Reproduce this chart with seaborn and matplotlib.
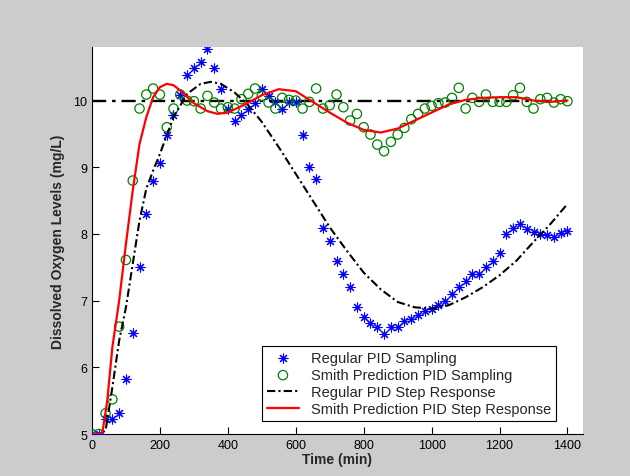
import numpy as np
import matplotlib
matplotlib.use('Agg')
import matplotlib.pyplot as plt
import seaborn as sns

# sampling times (min), every 20 min
t_sample = np.arange(0, 1401, 20)

regular_sampling = [
    5.0, 5.0, 5.22, 5.22, 5.31, 5.82, 6.51, 7.5, 8.3, 8.8,
    9.07, 9.49, 9.78, 10.09, 10.39, 10.49, 10.58, 10.78, 10.49, 10.18,
    9.88, 9.69, 9.79, 9.88, 9.97, 10.18, 10.07, 9.98, 9.88, 9.98,
    9.98, 9.49, 9.0, 8.82, 8.09, 7.9, 7.6, 7.4, 7.21, 6.91,
    6.75, 6.67, 6.61, 6.5, 6.6, 6.6, 6.69, 6.73, 6.78, 6.84,
    6.88, 6.94, 7.0, 7.1, 7.21, 7.3, 7.4, 7.4, 7.5, 7.6,
    7.72, 8.0, 8.09, 8.15, 8.07, 8.03, 8.0, 7.98, 7.96, 8.01,
    8.04
]

smith_sampling = [
    5.0, 5.0, 5.31, 5.52, 6.61, 7.61, 8.8, 9.88, 10.09, 10.18,
    10.09, 9.6, 9.88, 10.09, 10.0, 9.99, 9.88, 10.07, 9.97, 9.88,
    9.9, 9.88, 10.02, 10.1, 10.18, 10.07, 9.97, 9.88, 10.04, 10.01,
    10.0, 9.88, 9.98, 10.18, 9.88, 9.93, 10.09, 9.9, 9.7, 9.8,
    9.6, 9.49, 9.34, 9.24, 9.38, 9.49, 9.59, 9.72, 9.8, 9.88,
    9.92, 9.96, 9.97, 10.04, 10.19, 9.88, 10.04, 9.98, 10.09, 9.98,
    9.98, 9.98, 10.08, 10.19, 9.98, 9.88, 10.02, 10.04, 9.97, 10.02,
    9.99
]

# step responses
t_regular = [0, 20, 40, 60, 80, 100, 120, 140, 160, 180, 200, 240, 280,
             320, 350, 380, 420, 460, 500, 550, 600, 650, 700, 750, 800,
             850, 900, 950, 1000, 1050, 1100, 1150, 1200, 1250, 1300,
             1350, 1400]
regular_step = [5.0, 5.0, 5.05, 5.7, 6.4, 6.9, 7.55, 8.2, 8.68, 8.95, 9.2,
                9.75, 10.1, 10.25, 10.28, 10.25, 10.12, 9.93, 9.68, 9.3,
                8.9, 8.5, 8.1, 7.75, 7.42, 7.17, 6.98, 6.9, 6.88, 6.93,
                7.05, 7.2, 7.38, 7.6, 7.88, 8.15, 8.45]

t_smith = [0, 30, 45, 60, 80, 100, 120, 140, 160, 180, 200, 220, 240, 260,
           300, 340, 370, 400, 450, 500, 550, 600, 650, 700, 750, 800,
           850, 900, 950, 1000, 1050, 1100, 1150, 1200, 1250, 1300, 1350,
           1400]
smith_step = [5.0, 5.0, 5.5, 6.3, 7.0, 7.85, 8.65, 9.35, 9.75, 10.05, 10.2,
              10.25, 10.23, 10.15, 9.96, 9.84, 9.8, 9.82, 9.94, 10.08,
              10.17, 10.14, 9.98, 9.82, 9.67, 9.56, 9.52, 9.58, 9.7, 9.82,
              9.94, 10.01, 10.04, 10.05, 10.05, 10.0, 9.98, 10.0]

setpoint_t = [0, 1400]
setpoint = [10, 10]

sns.set_style('white')
plt.rcParams['font.family'] = ['Liberation Sans', 'DejaVu Sans']

fig = plt.figure(figsize=(6.3, 4.77), dpi=100, facecolor='#cccccc')
ax = fig.add_axes([0.146, 0.088, 0.779, 0.811])
ax.set_facecolor('white')

sns.lineplot(x=setpoint_t, y=setpoint, ax=ax, color='black',
             linewidth=1.7, dashes=False, label='_nolegend_')
ax.lines[-1].set_dashes((6, 2.5, 1.5, 2.5))

sns.scatterplot(x=t_sample, y=regular_sampling, ax=ax,
                marker=(8, 2, 0), s=42, color='blue', edgecolor='blue',
                linewidth=0.8, label='Regular PID Sampling', zorder=3)
sns.scatterplot(x=t_sample, y=smith_sampling, ax=ax,
                marker='o', s=45, facecolors='none', edgecolors='green',
                linewidth=0.9, label='Smith Prediction PID Sampling',
                zorder=3)

sns.lineplot(x=t_regular, y=regular_step, ax=ax, color='black',
             linewidth=1.5, label='Regular PID Step Response',
             zorder=4)
ax.lines[-1].set_dashes((4, 1.5, 1, 1.5))
sns.lineplot(x=t_smith, y=smith_step, ax=ax, color='red',
             linewidth=1.6, label='Smith Prediction PID Step Response',
             zorder=5)

ax.set_xlim(0, 1445)
ax.set_ylim(5, 10.8)
ax.set_xticks(range(0, 1401, 200))
ax.set_yticks(range(5, 11))

for side in ['top', 'right']:
    ax.spines[side].set_visible(False)
for side in ['left', 'bottom']:
    ax.spines[side].set_color('black')
    ax.spines[side].set_linewidth(0.8)

ax.tick_params(direction='in', length=5, width=0.8, labelsize=9,
               colors='black', left=True, bottom=True)

ax.set_xlabel('Time (min)', fontsize=10, fontweight='bold', labelpad=1)
ax.set_ylabel('Dissolved Oxygen Levels (mg/L)', fontsize=10,
              fontweight='bold', labelpad=6)

leg = ax.legend(loc='lower left', bbox_to_anchor=(0.346, 0.034),
                fontsize=10.5, frameon=True, fancybox=False,
                borderpad=0.35, labelspacing=0.2, handlelength=2.2,
                handletextpad=0.8, borderaxespad=0)
leg.get_frame().set_edgecolor('black')
leg.get_frame().set_linewidth(0.8)
leg.get_frame().set_alpha(1)

fig.savefig('out.png', dpi=100, facecolor=fig.get_facecolor())
